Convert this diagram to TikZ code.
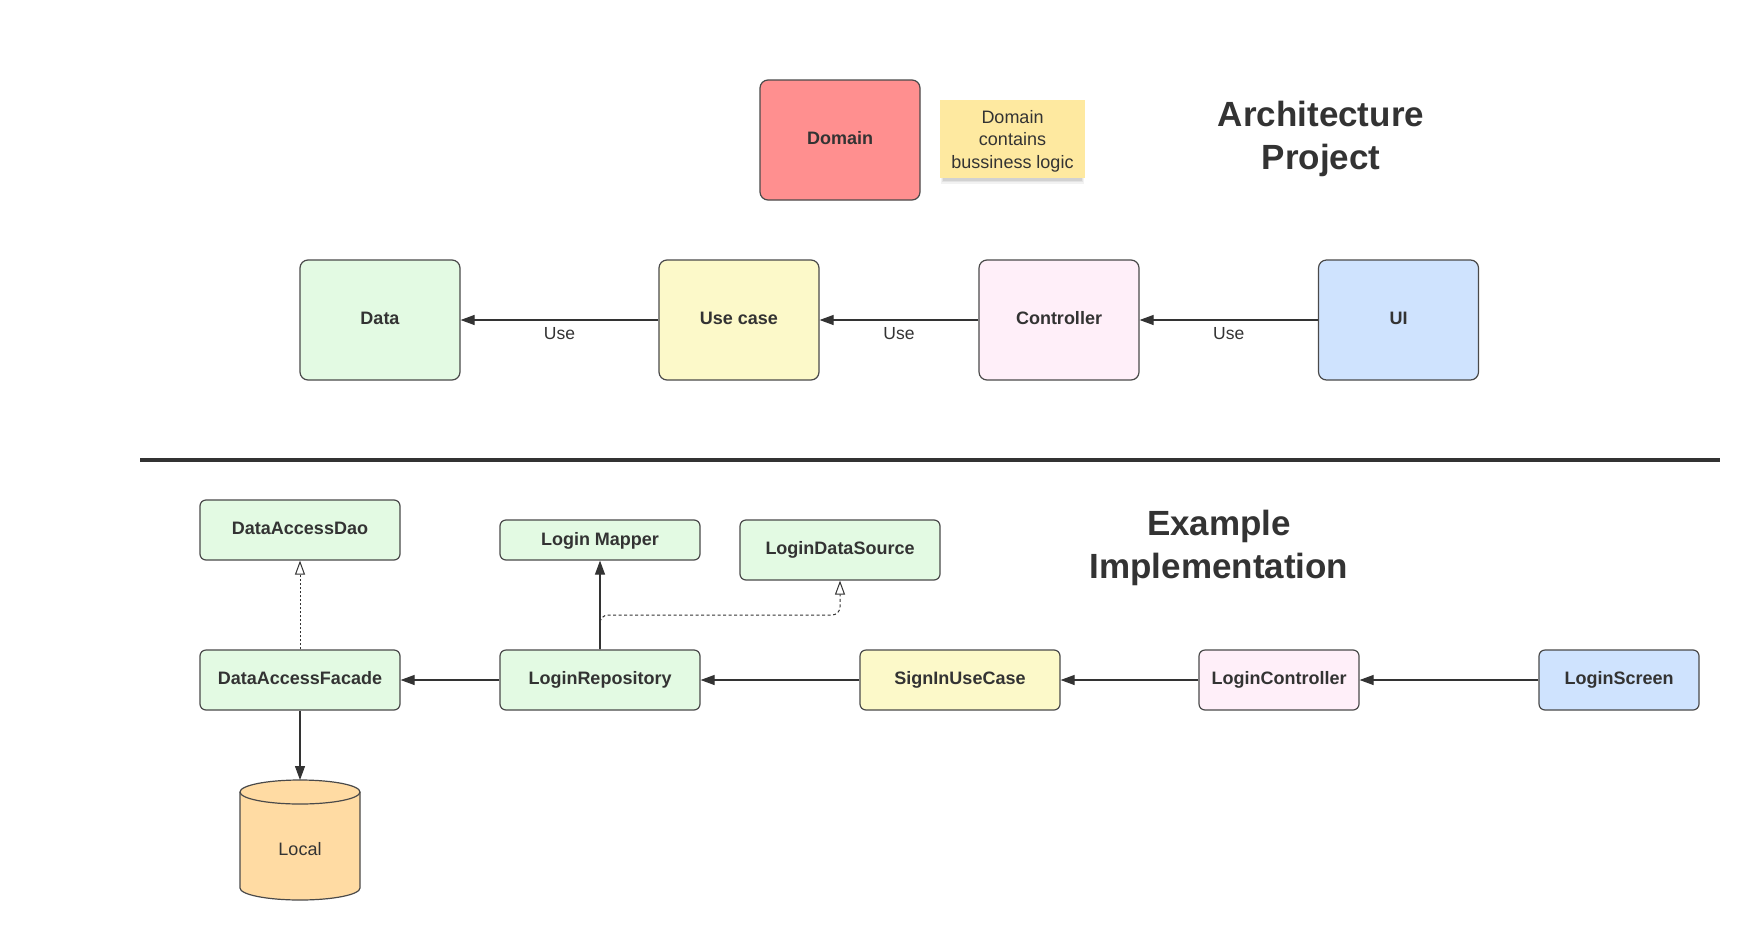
\documentclass[tikz,border=0pt]{standalone}
\usepackage{fontspec}
\setmainfont{Liberation Sans}
\usetikzlibrary{arrows.meta}
\definecolor{ink}{HTML}{333333}
\definecolor{edge}{HTML}{4A4A4A}
\definecolor{domainred}{HTML}{FF8F8F}
\definecolor{noteyellow}{HTML}{FEE9A0}
\definecolor{greenfill}{HTML}{E3FAE3}
\definecolor{yellowfill}{HTML}{FCF9C9}
\definecolor{pinkfill}{HTML}{FFEFF9}
\definecolor{bluefill}{HTML}{CFE3FE}
\definecolor{orangefill}{HTML}{FFDBA3}
\tikzset{
  bigbox/.style={draw=edge, line width=1.2pt, rounded corners=8pt, text=ink,
    minimum width=160pt, minimum height=120pt, inner sep=0pt, align=center,
    text height=13pt, text depth=5pt,
    font=\bfseries\fontsize{18}{22}\selectfont},
  smallbox/.style={draw=edge, line width=1.2pt, rounded corners=6pt, text=ink,
    minimum width=200pt, minimum height=60pt, inner sep=0pt, align=center,
    text height=13pt, text depth=5pt,
    font=\bfseries\fontsize{18}{22}\selectfont, fill=greenfill},
  notebox/.style={fill=noteyellow, text=ink, minimum width=145pt, minimum height=78pt,
    inner sep=0pt, align=center, font=\fontsize{18}{22.5}\selectfont},
  titletext/.style={text=ink, align=center, font=\bfseries\fontsize{35}{43}\selectfont},
  uselabel/.style={text=ink, font=\fontsize{17.5}{20}\selectfont, inner sep=0pt},
  arr/.style={draw=ink, line width=1.2pt, -{Triangle[length=14pt,width=10pt]}},
  dep/.style={draw=ink, line width=1pt, dash pattern=on 3pt off 2.5pt,
    -{Triangle[open,length=14pt,width=10pt,line width=1pt]}},
}
\begin{document}
\begin{tikzpicture}[x=1pt,y=-1pt]
\useasboundingbox[fill=white] (0,0) rectangle (1761,940);

% top section
\node[bigbox, fill=domainred] (domain) at (840,140) {Domain};
% soft shadow under the sticky note
\fill[black, opacity=0.05] (941,106) rectangle (1084,184);
\fill[black, opacity=0.06] (942,106) rectangle (1083,182);
\fill[black, opacity=0.08] (943,106) rectangle (1082,180.5);
\node[notebox] (note) at (1012.5,139) {};
\node[text=ink, align=center, font=\fontsize{18}{22.5}\selectfont, inner sep=0pt] (notetext) at (1012.5,141) {Domain\\contains\\bussiness logic};
\node[titletext] (arch) at (1321,138.5) {Architecture\\Project};

\node[bigbox, fill=greenfill] (data) at (380,320) {Data};
\node[bigbox, fill=yellowfill] (usecase) at (739,320) {Use case};
\node[bigbox, fill=pinkfill] (controller) at (1059,320) {Controller};
\node[bigbox, fill=bluefill] (ui) at (1398.5,320) {UI};

\draw[arr] (usecase.west) -- (data.east) node[uselabel, midway, yshift=-14pt] (use1) {Use};
\draw[arr] (controller.west) -- (usecase.east) node[uselabel, midway, yshift=-14pt] (use2) {Use};
\draw[arr] (ui.west) -- (controller.east) node[uselabel, midway, yshift=-14pt] (use3) {Use};

% separator
\coordinate (sepL) at (140,460);
\coordinate (sepR) at (1720,460);
\draw[ink, line width=4.5pt] (sepL) -- (sepR);

% bottom section
\node[titletext] (example) at (1219,548) {Example\\Implementation};

\node[smallbox] (dao) at (300,530) {DataAccessDao};
\node[smallbox, minimum height=40pt, text height=16pt] (mapper) at (600,540) {Login Mapper};
\node[smallbox] (source) at (840,550) {LoginDataSource};
\node[smallbox] (facade) at (300,680) {DataAccessFacade};
\node[smallbox] (repo) at (600,680) {LoginRepository};
\node[smallbox, fill=yellowfill] (signin) at (960,680) {SignInUseCase};
\node[smallbox, fill=pinkfill, minimum width=160pt] (lctrl) at (1279,680) {LoginController};
\node[smallbox, fill=bluefill, minimum width=160pt] (lscreen) at (1619,680) {LoginScreen};

% Local cylinder
\fill[orangefill] (240,792) -- (240,888) arc (180:360:60pt and 12pt) -- (360,792) arc (0:180:60pt and 12pt) -- cycle;
\draw[edge, line width=1.2pt] (240,792) -- (240,888) arc (180:360:60pt and 12pt) -- (360,792) arc (0:180:60pt and 12pt) -- cycle;
\draw[edge, line width=1.2pt] (240,792) arc (180:360:60pt and 12pt);
\coordinate (localtop) at (300,780);
\node[text=ink, font=\fontsize{18}{22}\selectfont] (local) at (300,849) {Local};

% connectors
\draw[dep, dash pattern=on 2pt off 2pt] (facade.north) -- (dao.south);
\draw[arr] (repo.north) -- (mapper.south);
\draw[dep, rounded corners=8pt] (repo.north) -- (600,615) -- (840,615) -- (source.south);
\draw[arr] (repo.west) -- (facade.east);
\draw[arr] (signin.west) -- (repo.east);
\draw[arr] (lctrl.west) -- (signin.east);
\draw[arr] (lscreen.west) -- (lctrl.east);
\draw[arr] (facade.south) -- (localtop);
\end{tikzpicture}
\end{document}
